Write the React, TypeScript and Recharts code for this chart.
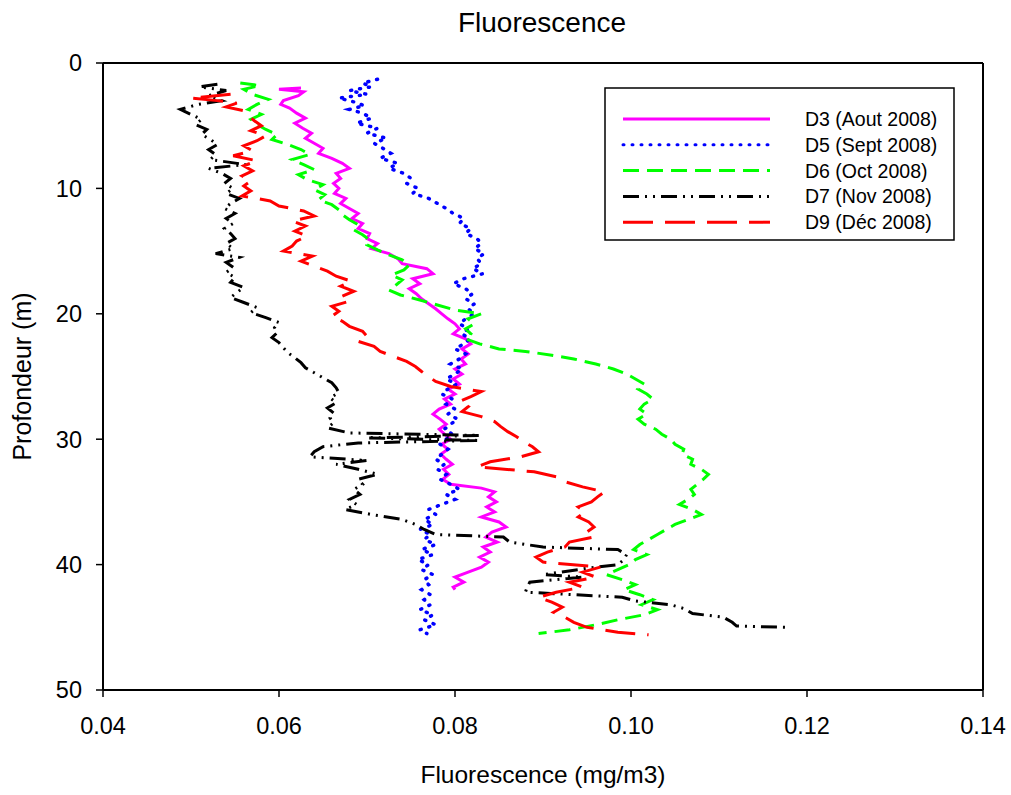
import React from 'react';
import { ScatterChart, Scatter, XAxis, YAxis, ReferenceLine, Label } from 'recharts';

// profiles: [depth (m), fluorescence (mg/m3)]
const D3_AOUT: [number, number][] = [
  [2.0, 0.0625], [2.1, 0.0600], [2.3, 0.0628], [2.6, 0.0622], [3.0, 0.0605], [3.3, 0.0602], [3.6, 0.0612],
  [4.0, 0.0620], [4.4, 0.0630], [4.8, 0.0618], [5.2, 0.0627], [5.6, 0.0637], [6.0, 0.0630], [6.4, 0.0640],
  [6.8, 0.0650], [7.2, 0.0645], [7.6, 0.0660], [8.0, 0.0672], [8.4, 0.0680], [8.8, 0.0665], [9.2, 0.0670],
  [9.6, 0.0662], [10.0, 0.0668], [10.4, 0.0663], [10.8, 0.0676], [11.2, 0.0670], [11.6, 0.0680], [12.0, 0.0690],
  [12.4, 0.0683], [12.8, 0.0695], [13.2, 0.0690], [13.6, 0.0703], [14.0, 0.0700], [14.4, 0.0712], [14.8, 0.0705],
  [15.2, 0.0725], [15.6, 0.0735], [16.0, 0.0740], [16.4, 0.0768], [16.8, 0.0775], [17.2, 0.0752], [17.6, 0.0760],
  [18.0, 0.0748], [18.4, 0.0756], [18.8, 0.0762], [19.2, 0.0770], [19.6, 0.0778], [20.0, 0.0785], [20.4, 0.0792],
  [20.8, 0.0800], [21.2, 0.0805], [21.6, 0.0798], [22.0, 0.0812], [22.4, 0.0818], [22.8, 0.0808], [23.2, 0.0815],
  [23.6, 0.0807], [24.0, 0.0812], [24.4, 0.0800], [24.8, 0.0808], [25.2, 0.0798], [25.6, 0.0805], [26.0, 0.0792],
  [26.4, 0.0800], [26.8, 0.0788], [27.2, 0.0795], [27.6, 0.0782], [28.0, 0.0775], [28.4, 0.0783], [28.8, 0.0790],
  [29.2, 0.0782], [29.6, 0.0788], [30.0, 0.0795], [30.4, 0.0785], [30.8, 0.0792], [31.2, 0.0784], [31.6, 0.0790],
  [32.0, 0.0797], [32.4, 0.0787], [32.8, 0.0793], [33.2, 0.0786], [33.6, 0.0795], [33.9, 0.0830], [34.2, 0.0845],
  [34.6, 0.0838], [35.0, 0.0847], [35.4, 0.0836], [35.8, 0.0845], [36.2, 0.0830], [36.6, 0.0850], [37.0, 0.0858],
  [37.4, 0.0842], [37.8, 0.0835], [38.2, 0.0848], [38.6, 0.0832], [39.0, 0.0840], [39.4, 0.0828], [39.8, 0.0838],
  [40.2, 0.0830], [40.6, 0.0815], [41.0, 0.0800], [41.4, 0.0810], [41.8, 0.0798], [42.0, 0.0800],
];

const D5_SEPT: [number, number][] = [
  [1.3, 0.0712], [1.6, 0.0695], [1.9, 0.0705], [2.2, 0.0680], [2.5, 0.0700], [2.8, 0.0668], [3.1, 0.0685],
  [3.4, 0.0697], [3.7, 0.0680], [4.0, 0.0695], [4.4, 0.0705], [4.8, 0.0688], [5.2, 0.0712], [5.6, 0.0700],
  [6.0, 0.0722], [6.4, 0.0708], [6.8, 0.0718], [7.2, 0.0727], [7.6, 0.0715], [8.0, 0.0735], [8.4, 0.0725],
  [8.8, 0.0742], [9.2, 0.0750], [9.6, 0.0745], [10.0, 0.0758], [10.4, 0.0752], [10.8, 0.0770], [11.2, 0.0780],
  [11.6, 0.0790], [12.0, 0.0798], [12.4, 0.0810], [12.8, 0.0805], [13.2, 0.0818], [13.6, 0.0812], [14.0, 0.0825],
  [14.4, 0.0830], [14.8, 0.0822], [15.2, 0.0833], [15.6, 0.0825], [16.0, 0.0830], [16.4, 0.0820], [16.8, 0.0832],
  [17.2, 0.0810], [17.6, 0.0798], [18.0, 0.0812], [18.4, 0.0820], [18.8, 0.0812], [19.2, 0.0822], [19.6, 0.0815],
  [20.0, 0.0822], [20.4, 0.0812], [20.8, 0.0805], [21.2, 0.0815], [21.6, 0.0808], [22.0, 0.0817], [22.4, 0.0810],
  [22.8, 0.0800], [23.2, 0.0812], [23.6, 0.0805], [24.0, 0.0795], [24.4, 0.0808], [24.8, 0.0800], [25.2, 0.0790],
  [25.6, 0.0802], [26.0, 0.0792], [26.4, 0.0785], [26.8, 0.0797], [27.2, 0.0790], [27.6, 0.0800], [28.0, 0.0792],
  [28.4, 0.0803], [28.8, 0.0795], [29.2, 0.0788], [29.6, 0.0797], [30.0, 0.0790], [30.4, 0.0783], [30.8, 0.0792],
  [31.2, 0.0785], [31.6, 0.0778], [32.0, 0.0788], [32.4, 0.0780], [32.8, 0.0790], [33.2, 0.0783], [33.6, 0.0795],
  [34.0, 0.0805], [34.4, 0.0790], [34.8, 0.0800], [35.2, 0.0785], [35.6, 0.0770], [36.0, 0.0778], [36.4, 0.0765],
  [36.8, 0.0775], [37.2, 0.0760], [37.6, 0.0772], [38.0, 0.0765], [38.4, 0.0778], [38.8, 0.0762], [39.2, 0.0775],
  [39.6, 0.0758], [40.0, 0.0770], [40.4, 0.0762], [40.8, 0.0775], [41.2, 0.0765], [41.6, 0.0770], [42.0, 0.0762],
  [42.4, 0.0772], [42.8, 0.0765], [43.2, 0.0772], [43.6, 0.0760], [44.0, 0.0775], [44.4, 0.0765], [44.8, 0.0778],
  [45.2, 0.0760], [45.5, 0.0768],
];

const D6_OCT: [number, number][] = [
  [1.6, 0.0556], [1.8, 0.0578], [2.1, 0.0560], [2.5, 0.0570], [2.9, 0.0588], [3.3, 0.0575], [3.7, 0.0565],
  [4.1, 0.0580], [4.5, 0.0568], [4.9, 0.0575], [5.3, 0.0585], [5.7, 0.0598], [6.1, 0.0592], [6.5, 0.0610],
  [6.9, 0.0625], [7.3, 0.0635], [7.7, 0.0615], [8.1, 0.0628], [8.5, 0.0640], [8.9, 0.0622], [9.3, 0.0632],
  [9.7, 0.0650], [10.1, 0.0640], [10.5, 0.0652], [10.9, 0.0645], [11.3, 0.0660], [11.7, 0.0668], [12.1, 0.0672],
  [12.5, 0.0680], [12.9, 0.0690], [13.3, 0.0685], [13.7, 0.0695], [14.1, 0.0703], [14.5, 0.0700], [14.9, 0.0712],
  [15.3, 0.0725], [15.7, 0.0740], [16.1, 0.0748], [16.5, 0.0742], [16.9, 0.0728], [17.3, 0.0740], [17.7, 0.0733],
  [18.1, 0.0725], [18.5, 0.0738], [18.9, 0.0760], [19.3, 0.0780], [19.7, 0.0800], [20.0, 0.0830], [20.4, 0.0815],
  [20.8, 0.0822], [21.2, 0.0812], [21.6, 0.0818], [22.0, 0.0812], [22.4, 0.0828], [22.8, 0.0850], [23.0, 0.0880],
  [23.3, 0.0910], [23.6, 0.0935], [24.0, 0.0960], [24.4, 0.0980], [24.8, 0.0995], [25.2, 0.1005], [25.6, 0.1015],
  [26.0, 0.1008], [26.4, 0.1018], [26.8, 0.1025], [27.2, 0.1015], [27.6, 0.1010], [28.0, 0.1018], [28.4, 0.1008],
  [28.8, 0.1015], [29.2, 0.1028], [29.6, 0.1035], [30.0, 0.1045], [30.4, 0.1050], [30.8, 0.1060], [31.2, 0.1058],
  [31.6, 0.1070], [32.0, 0.1068], [32.4, 0.1080], [32.8, 0.1088], [33.2, 0.1082], [33.6, 0.1075], [34.0, 0.1068],
  [34.4, 0.1072], [34.8, 0.1065], [35.2, 0.1055], [35.6, 0.1070], [36.0, 0.1080], [36.4, 0.1065], [36.8, 0.1050],
  [37.2, 0.1040], [37.6, 0.1030], [38.0, 0.1020], [38.4, 0.1010], [38.8, 0.1003], [39.2, 0.1018], [39.6, 0.1005],
  [40.0, 0.0998], [40.4, 0.0985], [40.8, 0.0972], [41.2, 0.0990], [41.6, 0.1005], [42.0, 0.0992], [42.4, 0.1010],
  [42.8, 0.1025], [43.2, 0.1012], [43.6, 0.1030], [44.0, 0.1015], [44.4, 0.0985], [44.8, 0.0960], [45.2, 0.0930],
  [45.5, 0.0895],
];

const D7_NOV: [number, number][] = [
  [1.7, 0.0530], [1.9, 0.0510], [2.2, 0.0540], [2.6, 0.0520], [3.0, 0.0535], [3.3, 0.0508], [3.7, 0.0488],
  [4.1, 0.0500], [4.5, 0.0512], [4.9, 0.0505], [5.3, 0.0518], [5.7, 0.0512], [6.1, 0.0522], [6.5, 0.0530],
  [6.9, 0.0520], [7.3, 0.0528], [7.7, 0.0522], [8.1, 0.0562], [8.4, 0.0520], [8.8, 0.0535], [9.2, 0.0545],
  [9.6, 0.0538], [10.0, 0.0548], [10.4, 0.0540], [10.8, 0.0555], [11.2, 0.0545], [11.6, 0.0538], [12.0, 0.0550],
  [12.4, 0.0540], [12.8, 0.0548], [13.2, 0.0538], [13.6, 0.0545], [14.0, 0.0550], [14.4, 0.0540], [14.8, 0.0548],
  [15.2, 0.0528], [15.5, 0.0555], [15.9, 0.0540], [16.3, 0.0548], [16.7, 0.0540], [17.1, 0.0550], [17.5, 0.0545],
  [17.9, 0.0560], [18.3, 0.0552], [18.7, 0.0545], [19.1, 0.0560], [19.5, 0.0575], [19.9, 0.0568], [20.3, 0.0585],
  [20.7, 0.0600], [21.1, 0.0595], [21.5, 0.0598], [21.9, 0.0592], [22.3, 0.0600], [22.7, 0.0605], [23.1, 0.0610],
  [23.5, 0.0618], [23.9, 0.0625], [24.3, 0.0630], [24.7, 0.0640], [25.1, 0.0650], [25.5, 0.0660], [25.9, 0.0665],
  [26.3, 0.0668], [26.7, 0.0658], [27.1, 0.0665], [27.5, 0.0655], [27.9, 0.0662], [28.3, 0.0658], [28.7, 0.0662],
  [29.1, 0.0655], [29.5, 0.0680], [29.7, 0.0828], [29.9, 0.0700], [30.1, 0.0828], [30.3, 0.0690], [30.6, 0.0650],
  [31.0, 0.0640], [31.4, 0.0635], [31.7, 0.0700], [32.0, 0.0665], [32.4, 0.0690], [32.8, 0.0712], [33.2, 0.0690],
  [33.6, 0.0695], [34.0, 0.0685], [34.4, 0.0692], [34.8, 0.0680], [35.2, 0.0688], [35.6, 0.0675], [36.0, 0.0705],
  [36.4, 0.0740], [36.8, 0.0755], [37.2, 0.0765], [37.6, 0.0778], [37.8, 0.0855], [38.2, 0.0862], [38.6, 0.0900],
  [38.8, 0.0985], [39.2, 0.0995], [39.6, 0.0992], [40.0, 0.0985], [40.3, 0.0950], [40.8, 0.0900], [41.0, 0.0945],
  [41.4, 0.0885], [41.8, 0.0882], [42.2, 0.0880], [42.6, 0.0990], [42.9, 0.1005], [43.2, 0.1045], [43.5, 0.1060],
  [43.9, 0.1070], [44.2, 0.1105], [44.6, 0.1115], [44.9, 0.1120], [45.0, 0.1177],
];

const D9_DEC: [number, number][] = [
  [2.5, 0.0545], [2.8, 0.0500], [3.0, 0.0530], [3.2, 0.0552], [3.5, 0.0540], [3.8, 0.0560], [4.2, 0.0565],
  [4.6, 0.0572], [5.0, 0.0580], [5.4, 0.0568], [5.8, 0.0585], [6.2, 0.0575], [6.6, 0.0560], [7.0, 0.0570],
  [7.4, 0.0548], [7.8, 0.0575], [8.2, 0.0560], [8.6, 0.0570], [9.0, 0.0558], [9.4, 0.0568], [9.8, 0.0560],
  [10.2, 0.0568], [10.6, 0.0558], [11.0, 0.0590], [11.4, 0.0600], [11.8, 0.0628], [12.2, 0.0640], [12.6, 0.0615],
  [13.0, 0.0630], [13.4, 0.0618], [13.8, 0.0632], [14.2, 0.0620], [14.6, 0.0615], [15.0, 0.0605], [15.4, 0.0638],
  [15.8, 0.0625], [16.2, 0.0640], [16.6, 0.0655], [17.0, 0.0665], [17.4, 0.0682], [17.8, 0.0670], [18.2, 0.0685],
  [18.6, 0.0672], [19.0, 0.0680], [19.4, 0.0660], [19.8, 0.0668], [20.2, 0.0660], [20.6, 0.0672], [21.0, 0.0680],
  [21.4, 0.0695], [21.8, 0.0700], [22.2, 0.0690], [22.6, 0.0708], [23.0, 0.0715], [23.4, 0.0730], [23.8, 0.0745],
  [24.2, 0.0755], [24.6, 0.0762], [25.0, 0.0770], [25.4, 0.0778], [25.8, 0.0795], [26.2, 0.0830], [26.6, 0.0818],
  [27.0, 0.0805], [27.4, 0.0815], [27.8, 0.0808], [28.2, 0.0830], [28.6, 0.0845], [29.0, 0.0852], [29.4, 0.0860],
  [29.8, 0.0870], [30.2, 0.0878], [30.6, 0.0888], [31.0, 0.0895], [31.4, 0.0875], [31.8, 0.0840], [32.2, 0.0825],
  [32.6, 0.0890], [33.0, 0.0915], [33.4, 0.0925], [33.8, 0.0945], [34.2, 0.0970], [34.6, 0.0962], [35.0, 0.0955],
  [35.4, 0.0940], [35.8, 0.0948], [36.2, 0.0940], [36.6, 0.0952], [37.0, 0.0958], [37.4, 0.0950], [37.8, 0.0958],
  [38.2, 0.0930], [38.6, 0.0925], [39.0, 0.0905], [39.4, 0.0892], [39.8, 0.0900], [40.2, 0.0965], [40.6, 0.0945],
  [41.0, 0.0960], [41.4, 0.0930], [41.8, 0.0945], [42.2, 0.0915], [42.6, 0.0895], [43.0, 0.0910], [43.4, 0.0922],
  [43.8, 0.0912], [44.2, 0.0925], [44.6, 0.0935], [45.0, 0.0950], [45.4, 0.0985], [45.6, 0.1020],
];

const X_TICKS = [0.04, 0.06, 0.08, 0.1, 0.12, 0.14];
const Y_TICKS = [0, 10, 20, 30, 40, 50];

const SERIES = [
  { name: 'D3 (Aout 2008)', data: D3_AOUT, color: '#ff00ff', dash: undefined, cap: 'butt' },
  { name: 'D5 (Sept 2008)', data: D5_SEPT, color: '#0000ff', dash: '1 8', cap: 'round' },
  { name: 'D6 (Oct 2008)', data: D6_OCT, color: '#00ff00', dash: '16 8', cap: 'butt' },
  { name: 'D7 (Nov 2008)', data: D7_NOV, color: '#000000', dash: '16 6 2 6 2 6', cap: 'butt' },
  { name: 'D9 (Déc 2008)', data: D9_DEC, color: '#ff0000', dash: '30 12', cap: 'butt' },
];

const FONT = '"Liberation Sans", Arial, sans-serif';

const toPoints = (rows: [number, number][]) => rows.map(([depth, v]) => ({ x: v, y: depth }));

const LegendBox = () => (
  <svg width={352} height={155} style={{ position: 'absolute', left: 604, top: 87, display: 'block' }}>
    <rect x={1} y={1} width={349} height={152} fill="#fff" stroke="#000" strokeWidth={1.5} />
    {SERIES.map((s, i) => (
      <g key={s.name}>
        <line
          x1={19}
          x2={166}
          y1={32 + i * 25.8}
          y2={32 + i * 25.8}
          stroke={s.color}
          strokeWidth={3}
          strokeDasharray={s.dash}
          strokeLinecap={s.cap as 'butt' | 'round'}
        />
        <text x={201} y={32 + i * 25.8} dy="0.36em" fontSize={19.5} fontFamily={FONT} fill="#000">
          {s.name}
        </text>
      </g>
    ))}
  </svg>
);

export default function App() {
  return (
    <div style={{ position: 'relative', width: 1011, height: 795, background: '#fff', fontFamily: FONT }}>
      <style>{'body{margin:0}'}</style>
      <div
        style={{
          position: 'absolute',
          top: 6,
          left: 0,
          width: 1084,
          textAlign: 'center',
          fontSize: 28,
          lineHeight: '34px',
          color: '#000',
        }}
      >
        Fluorescence
      </div>
      <ScatterChart width={1011} height={795} margin={{ top: 63, right: 28, bottom: 0, left: 0 }}>
        <XAxis
          type="number"
          dataKey="x"
          domain={[0.04, 0.14]}
          ticks={X_TICKS}
          tickFormatter={(v: number) => v.toFixed(2)}
          height={105}
          tickSize={7}
          tickMargin={20}
          axisLine={{ stroke: '#000', strokeWidth: 2 }}
          tickLine={{ stroke: '#000', strokeWidth: 1.5 }}
          tick={{ fill: '#000', fontSize: 23.5, fontFamily: FONT }}
          allowDataOverflow
        >
          <Label value="Fluorescence (mg/m3)" position="insideBottom" offset={12} fill="#000" fontSize={24.5} fontFamily={FONT} />
        </XAxis>
        <YAxis
          type="number"
          dataKey="y"
          reversed
          domain={[0, 50]}
          ticks={Y_TICKS}
          width={103}
          tickSize={7}
          tickMargin={14}
          axisLine={{ stroke: '#000', strokeWidth: 2 }}
          tickLine={{ stroke: '#000', strokeWidth: 1.5 }}
          tick={{ fill: '#000', fontSize: 23.5, fontFamily: FONT }}
          allowDataOverflow
        >
          <Label value="Profondeur (m)" angle={-90} position="insideLeft" offset={22} fill="#000" fontSize={25} fontFamily={FONT} style={{ textAnchor: 'middle' }} />
        </YAxis>
        <ReferenceLine y={0} stroke="#000" strokeWidth={2} />
        <ReferenceLine x={0.14} stroke="#000" strokeWidth={2} />
        {SERIES.map((s) => (
          <Scatter
            key={s.name}
            name={s.name}
            data={toPoints(s.data)}
            fill={s.color}
            line={{
              stroke: s.color,
              strokeWidth: s.dash === '1 8' ? 3.5 : 3,
              strokeDasharray: s.dash,
              strokeLinecap: s.cap,
            }}
            shape={() => <g />}
            isAnimationActive={false}
          />
        ))}
      </ScatterChart>
      <LegendBox />
    </div>
  );
}
